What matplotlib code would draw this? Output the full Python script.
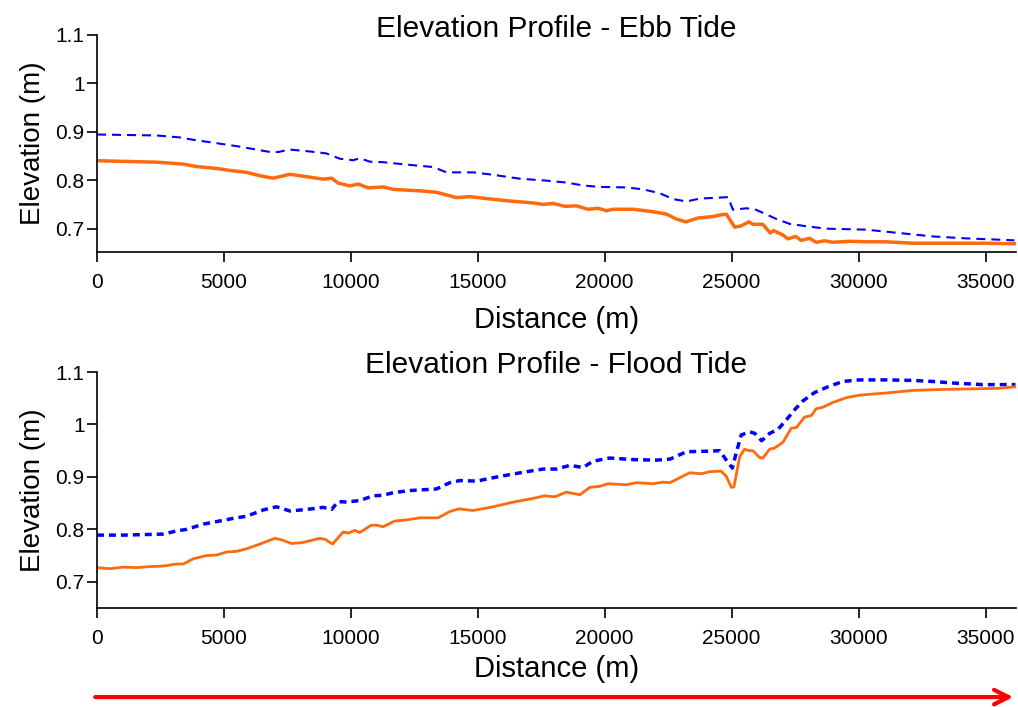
import matplotlib
matplotlib.use("Agg")
import matplotlib.pyplot as plt
from matplotlib.ticker import FuncFormatter

plt.rcParams['font.family'] = ['Liberation Sans', 'DejaVu Sans']
plt.rcParams['lines.scale_dashes'] = False

# Ebb tide: solid (orange) and dashed (blue) profiles
ebb_solid_x = [0, 2350, 3400, 3920, 4710, 5240, 5890, 6420, 6940, 7600, 8260, 8910, 9240, 9500,
               9960, 10290, 10680, 11270, 11670, 12320, 12720, 13370, 14160, 14690, 15340, 16260,
               17180, 17580, 17970, 18430, 18890, 19340, 19740, 20060, 20330, 21120, 21900, 22430,
               22820, 23190, 23680, 24260, 24530, 24790, 25120, 25380, 25680, 25840, 26230, 26520,
               26650, 27020, 27220, 27520, 27740, 28070, 28330, 28660, 28990, 29650, 30300, 31090,
               32140, 33580, 34890, 36140]
ebb_solid_y = [0.840, 0.837, 0.833, 0.828, 0.824, 0.820, 0.816, 0.809, 0.804, 0.812, 0.807, 0.802,
               0.804, 0.794, 0.788, 0.792, 0.784, 0.786, 0.781, 0.779, 0.778, 0.775, 0.764, 0.766,
               0.762, 0.757, 0.753, 0.750, 0.752, 0.746, 0.747, 0.740, 0.742, 0.737, 0.740, 0.740,
               0.735, 0.730, 0.720, 0.714, 0.722, 0.725, 0.728, 0.730, 0.703, 0.706, 0.714, 0.709,
               0.709, 0.691, 0.696, 0.687, 0.679, 0.684, 0.676, 0.680, 0.672, 0.675, 0.672, 0.674,
               0.673, 0.673, 0.670, 0.670, 0.670, 0.669]
ebb_dash_x = [0, 2350, 3260, 3800, 4590, 5500, 6160, 6810, 7140, 7600, 8390, 9040, 9570, 10090,
              10350, 10750, 11270, 12190, 13240, 13770, 14820, 15600, 16650, 17700, 18490, 19150,
              19800, 20850, 21510, 22170, 22690, 23220, 23740, 24530, 24860, 25050, 25580, 25910,
              26300, 26760, 27280, 27940, 28730, 30300, 31610, 32930, 34240, 36140]
ebb_dash_y = [0.894, 0.892, 0.888, 0.883, 0.877, 0.870, 0.864, 0.858, 0.858, 0.863, 0.859, 0.855,
              0.844, 0.841, 0.845, 0.838, 0.837, 0.832, 0.827, 0.816, 0.816, 0.811, 0.803, 0.799,
              0.795, 0.789, 0.786, 0.785, 0.781, 0.773, 0.761, 0.756, 0.762, 0.764, 0.765, 0.739,
              0.742, 0.740, 0.731, 0.720, 0.710, 0.705, 0.700, 0.698, 0.691, 0.684, 0.680, 0.676]

# Flood tide
flood_solid_x = [0, 510, 1040, 1560, 2090, 2610, 3140, 3400, 3800, 4320, 4710, 5120, 5500, 5890,
                 6420, 7010, 7270, 7660, 8120, 8780, 8980, 9280, 9700, 9890, 10160, 10350, 10810,
                 11010, 11270, 11730, 12190, 12720, 13440, 13900, 14240, 14820, 15600, 16400, 17180,
                 17640, 18030, 18490, 19020, 19410, 19800, 20130, 20850, 21250, 21900, 22300, 22570,
                 23350, 23810, 24130, 24590, 24790, 24990, 25090, 25320, 25510, 25680, 25840, 26100,
                 26230, 26500, 26690, 27020, 27350, 27550, 27870, 28140, 28330, 28600, 28990, 29510,
                 30040, 31090, 32140, 33470, 34650, 35550, 36180]
flood_solid_y = [0.727, 0.725, 0.728, 0.727, 0.729, 0.730, 0.734, 0.734, 0.744, 0.750, 0.751, 0.757,
                 0.758, 0.763, 0.772, 0.783, 0.780, 0.773, 0.775, 0.783, 0.781, 0.772, 0.795, 0.793,
                 0.798, 0.794, 0.808, 0.808, 0.805, 0.816, 0.818, 0.822, 0.822, 0.834, 0.839, 0.836,
                 0.843, 0.852, 0.859, 0.864, 0.862, 0.871, 0.866, 0.880, 0.882, 0.887, 0.885, 0.889,
                 0.887, 0.890, 0.889, 0.908, 0.906, 0.910, 0.911, 0.901, 0.880, 0.881, 0.939, 0.953,
                 0.950, 0.950, 0.937, 0.936, 0.953, 0.955, 0.966, 0.993, 0.994, 1.014, 1.017, 1.030,
                 1.033, 1.042, 1.051, 1.056, 1.060, 1.065, 1.067, 1.068, 1.069, 1.072]
flood_dash_x = [0, 1040, 1820, 2610, 3140, 3530, 4190, 4840, 5370, 5890, 6550, 7070, 7600, 8260,
                8910, 9240, 9500, 9830, 10350, 10880, 11270, 11670, 12320, 13370, 13900, 14290,
                14950, 15870, 16800, 17580, 18110, 18620, 19150, 19540, 20200, 21120, 22040, 22570,
                23220, 24000, 24530, 24790, 25030, 25190, 25380, 25710, 25910, 26180, 26500, 26830,
                27160, 27480, 27810, 28270, 28800, 29380, 30040, 31090, 32140, 32930, 33720, 34890,
                36180]
flood_dash_y = [0.789, 0.789, 0.790, 0.791, 0.797, 0.800, 0.810, 0.816, 0.821, 0.825, 0.837, 0.843,
                0.835, 0.838, 0.842, 0.838, 0.853, 0.852, 0.855, 0.864, 0.865, 0.870, 0.874, 0.877,
                0.889, 0.893, 0.892, 0.901, 0.909, 0.915, 0.915, 0.922, 0.918, 0.930, 0.936, 0.933,
                0.932, 0.934, 0.948, 0.949, 0.950, 0.932, 0.917, 0.948, 0.980, 0.986, 0.983, 0.969,
                0.983, 0.991, 1.009, 1.028, 1.045, 1.061, 1.072, 1.082, 1.085, 1.085, 1.084, 1.082,
                1.079, 1.076, 1.076]

y_ticks = [0.7, 0.8, 0.9, 1.0, 1.1]
x_ticks = [0, 5000, 10000, 15000, 20000, 25000, 30000, 35000]
orange = "#FF6A0D"
blue = "#0000FF"

fig = plt.figure(figsize=(10.18, 7.07), dpi=100)
ax1 = fig.add_axes([0.0953, 0.6436, 0.9027, 0.3076])
ax2 = fig.add_axes([0.0953, 0.1400, 0.9027, 0.3338])

ax1.plot(ebb_dash_x, ebb_dash_y, color=blue, lw=1.5, dashes=(6.5, 4.3))
ax1.plot(ebb_solid_x, ebb_solid_y, color=orange, lw=2.5)
ax2.plot(flood_dash_x, flood_dash_y, color=blue, lw=2.5, dashes=(5.0, 3.6))
ax2.plot(flood_solid_x, flood_solid_y, color=orange, lw=2.0)

fmt = FuncFormatter(lambda v, p: "%g" % v)
for ax, title, ylo, xpad, ty in [(ax1, "Elevation Profile - Ebb Tide", 0.652, 10, 0.9885),
                                 (ax2, "Elevation Profile - Flood Tide", 0.65, 5.5, 0.996)]:
    ax.set_xlim(0, 36200)
    ax.set_ylim(ylo, 1.1)
    ax.set_xticks(x_ticks)
    ax.set_yticks(y_ticks)
    ax.yaxis.set_major_formatter(fmt)
    ax.spines["top"].set_visible(False)
    ax.spines["right"].set_visible(False)
    ax.spines["left"].set_linewidth(1.2)
    ax.spines["bottom"].set_linewidth(1.2)
    ax.tick_params(direction="out", length=7.5, width=1.2, labelsize=15)
    ax.tick_params(axis="x", pad=7.5)
    ax.tick_params(axis="y", pad=1.5)
    ax.set_title(title, fontsize=21.5, y=ty, pad=0, va="baseline")
    ax.set_xlabel("Distance (m)", fontsize=21, labelpad=xpad)
    ax.set_ylabel("Elevation (m)", fontsize=20, labelpad=7)

# flow direction arrow under the lower panel
ax2.annotate("", xy=(1.0, 0.014), xytext=(-0.005, 0.014),
             xycoords=("axes fraction", "figure fraction"),
             textcoords=("axes fraction", "figure fraction"),
             arrowprops=dict(arrowstyle="->", color="red", lw=3, mutation_scale=26),
             annotation_clip=False)

fig.savefig("out.png", dpi=100)
